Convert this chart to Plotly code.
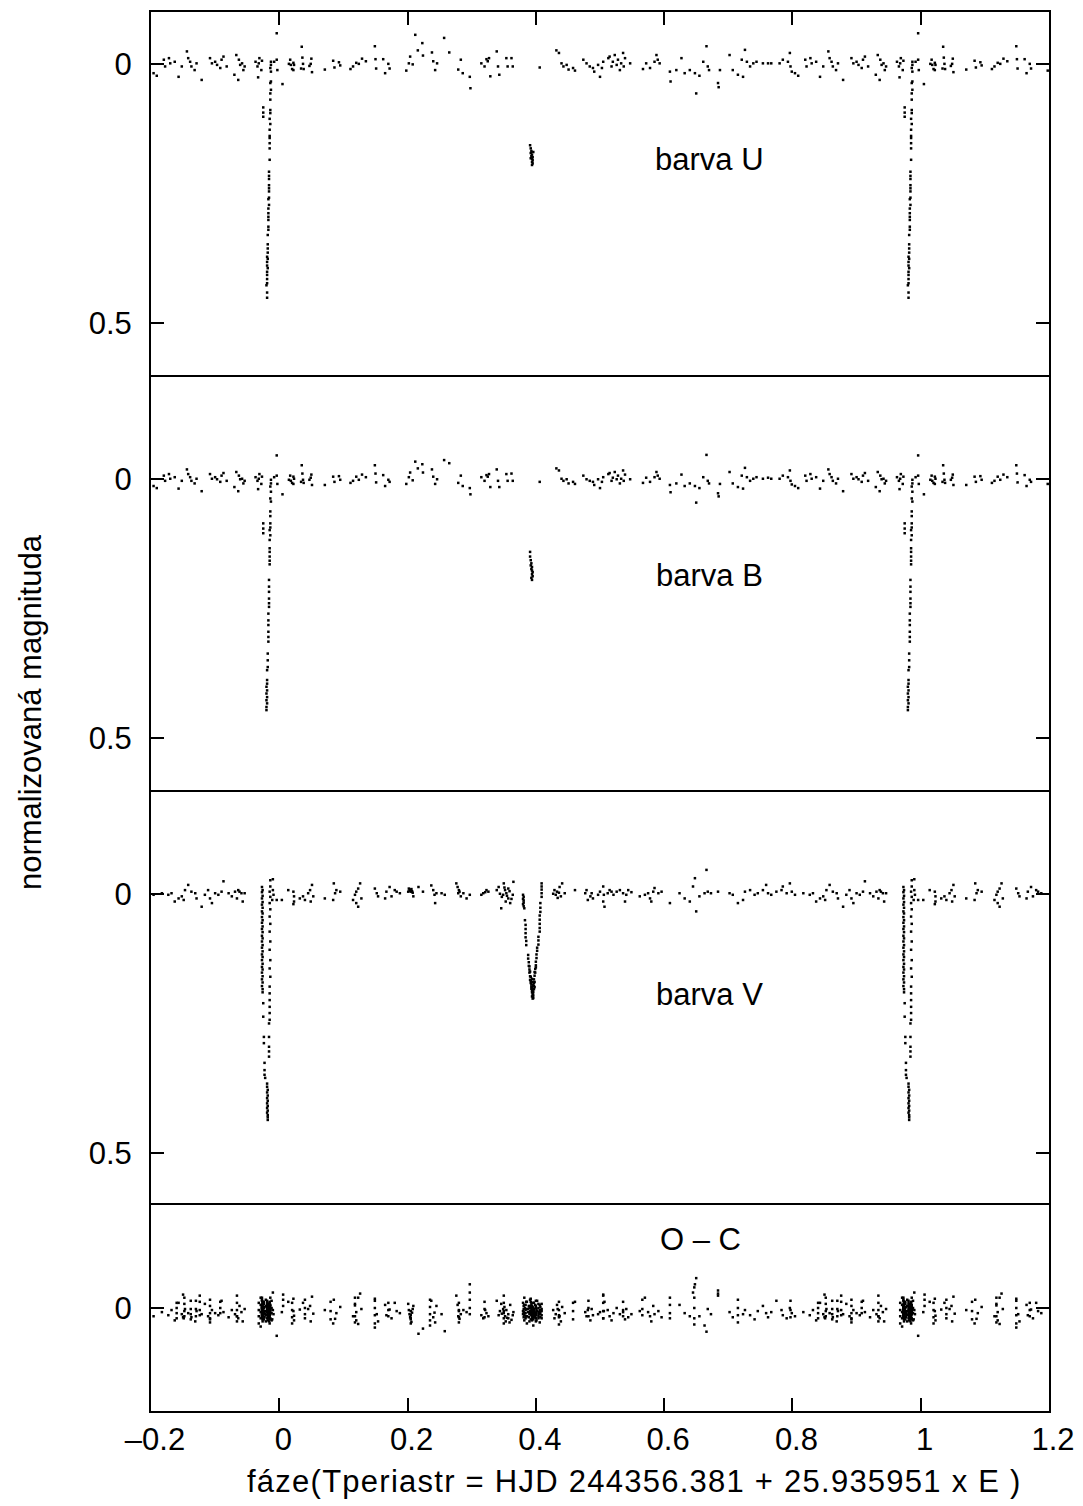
import plotly.graph_objects as go
from plotly.subplots import make_subplots

FONT = "Liberation Sans, Arial, Helvetica, sans-serif"
FS = 31

# ---------------- data (phase in [0,1), normalized magnitude) ----------------
# U filter, out of eclipse
u_out = [
    (0.005, 0.039), (0.015, 0.000), (0.017, -0.008), (0.018, 0.002), (0.020, 0.010), (0.022, -0.002),
    (0.022, 0.012), (0.023, 0.002), (0.034, 0.009), (0.035, -0.033), (0.036, -0.012), (0.037, 0.000),
    (0.038, 0.010), (0.047, 0.004), (0.049, 0.000), (0.050, -0.010), (0.051, 0.016), (0.071, 0.011),
    (0.084, -0.006), (0.086, 0.007), (0.093, -0.003), (0.095, 0.003), (0.111, 0.010), (0.115, 0.005),
    (0.120, -0.002), (0.124, 0.000), (0.129, -0.010), (0.135, -0.005), (0.149, -0.034), (0.150, -0.009),
    (0.151, 0.009), (0.162, -0.009), (0.165, 0.018), (0.170, 0.000), (0.172, 0.009), (0.198, 0.013),
    (0.202, -0.001), (0.204, -0.014), (0.208, 0.001), (0.212, -0.056), (0.216, -0.026), (0.223, -0.040),
    (0.224, -0.016), (0.238, -0.022), (0.240, -0.005), (0.243, 0.012), (0.246, -0.001), (0.257, -0.050),
    (0.265, -0.022), (0.279, 0.011), (0.283, -0.008), (0.286, 0.018), (0.297, 0.025), (0.298, 0.047),
    (0.315, -0.001), (0.320, 0.005), (0.323, -0.009), (0.325, -0.005), (0.327, -0.011), (0.329, 0.024),
    (0.339, -0.024), (0.341, 0.005), (0.343, 0.021), (0.354, -0.011), (0.356, 0.005), (0.362, -0.011),
    (0.364, 0.005), (0.406, 0.007), (0.432, -0.026), (0.436, -0.021), (0.440, -0.001), (0.443, 0.005),
    (0.448, 0.002), (0.451, 0.011), (0.458, 0.008), (0.461, 0.013), (0.474, -0.008), (0.479, -0.001),
    (0.484, 0.005), (0.489, 0.008), (0.497, 0.002), (0.491, 0.015), (0.500, 0.025), (0.503, 0.008),
    (0.505, -0.004), (0.513, -0.011), (0.515, -0.014), (0.518, 0.005), (0.520, -0.004), (0.523, -0.017),
    (0.526, 0.002), (0.528, -0.008), (0.531, 0.012), (0.533, -0.001), (0.536, -0.021), (0.537, 0.005),
    (0.539, -0.011), (0.547, -0.001), (0.567, 0.010), (0.572, -0.001), (0.578, 0.008), (0.585, -0.004),
    (0.588, -0.017), (0.590, -0.008), (0.593, -0.001), (0.609, 0.015), (0.610, 0.034), (0.619, 0.012),
    (0.627, -0.011), (0.632, 0.018), (0.640, 0.012), (0.648, 0.018), (0.650, 0.057), (0.655, 0.023),
    (0.661, -0.004), (0.666, -0.034), (0.668, 0.005), (0.670, 0.012), (0.684, 0.037), (0.685, 0.045),
    (0.687, 0.012), (0.702, -0.017), (0.707, 0.012), (0.715, 0.021), (0.721, -0.008), (0.723, 0.025),
    (0.726, -0.027), (0.729, -0.004), (0.734, 0.005), (0.739, -0.001), (0.744, -0.004), (0.754, -0.001),
    (0.762, -0.001), (0.767, -0.001), (0.780, -0.001), (0.785, -0.008), (0.793, -0.004), (0.796, -0.021),
    (0.797, 0.005), (0.799, 0.015), (0.804, 0.018), (0.809, 0.023), (0.820, -0.008), (0.822, 0.005),
    (0.828, -0.011), (0.830, -0.001), (0.837, -0.004), (0.843, 0.025), (0.848, 0.005), (0.856, -0.024),
    (0.858, -0.011), (0.861, -0.004), (0.863, 0.005), (0.868, 0.012), (0.871, -0.001), (0.879, 0.031),
    (0.892, -0.011), (0.895, -0.001), (0.900, -0.004), (0.903, 0.002), (0.908, 0.008), (0.910, -0.008),
    (0.913, -0.014), (0.918, 0.005), (0.930, 0.021), (0.933, -0.017), (0.936, 0.031), (0.937, -0.008),
    (0.939, 0.002), (0.942, -0.001), (0.944, 0.012), (0.946, 0.005), (0.963, -0.004), (0.966, 0.005),
    (0.967, 0.026), (0.968, -0.001), (0.969, -0.011), (0.972, 0.012), (0.973, -0.006), (0.992, -0.004),
    (0.996, -0.059), (0.996, -0.008), (0.997, 0.012),
]
# U filter, primary eclipse
u_ecl = [
    (0.987, -0.004), (0.987, 0.002), (0.986, 0.008), (0.987, 0.015), (0.987, 0.034), (0.986, 0.037),
    (0.987, 0.050), (0.986, 0.057), (0.986, 0.069), (0.986, 0.089), (0.986, 0.095), (0.985, 0.106),
    (0.986, 0.116), (0.985, 0.127), (0.985, 0.139), (0.985, 0.143), (0.985, 0.153), (0.985, 0.163),
    (0.985, 0.185), (0.984, 0.208), (0.984, 0.216), (0.984, 0.222), (0.984, 0.234), (0.984, 0.240),
    (0.984, 0.246), (0.984, 0.258), (0.983, 0.261), (0.984, 0.272), (0.983, 0.279), (0.983, 0.288),
    (0.983, 0.295), (0.983, 0.301), (0.983, 0.314), (0.983, 0.320), (0.982, 0.330), (0.982, 0.348),
    (0.982, 0.356), (0.982, 0.364), (0.981, 0.372), (0.982, 0.376), (0.981, 0.382), (0.981, 0.389),
    (0.982, 0.394), (0.981, 0.401), (0.981, 0.407), (0.981, 0.415), (0.981, 0.423), (0.980, 0.427),
    (0.981, 0.441), (0.981, 0.451), (0.975, 0.084), (0.975, 0.094), (0.975, 0.102),
]
# U filter, secondary eclipse
u_sec = [
    (0.391, 0.157), (0.392, 0.163), (0.393, 0.168), (0.392, 0.172), (0.394, 0.175), (0.393, 0.178),
    (0.395, 0.180), (0.394, 0.183), (0.395, 0.186), (0.394, 0.189), (0.395, 0.192), (0.394, 0.195),
    (0.396, 0.170), (0.392, 0.182),
]

# B filter, out of eclipse
b_out = [
    (0.005, 0.030), (0.015, 0.002), (0.017, -0.006), (0.018, 0.004), (0.020, 0.008), (0.022, -0.004),
    (0.022, 0.010), (0.023, 0.000), (0.034, 0.006), (0.035, -0.026), (0.036, -0.010), (0.037, 0.002),
    (0.038, 0.008), (0.047, 0.002), (0.049, -0.002), (0.050, -0.008), (0.051, 0.012), (0.071, 0.012),
    (0.084, -0.004), (0.086, 0.006), (0.093, -0.005), (0.095, 0.002), (0.111, 0.008), (0.115, 0.004),
    (0.120, -0.004), (0.124, 0.002), (0.129, -0.008), (0.135, -0.003), (0.149, -0.026), (0.150, -0.010),
    (0.151, 0.007), (0.162, -0.007), (0.165, 0.014), (0.170, 0.002), (0.172, 0.006), (0.198, 0.010),
    (0.202, -0.003), (0.204, -0.012), (0.208, 0.003), (0.212, -0.033), (0.216, -0.020), (0.223, -0.028),
    (0.224, -0.012), (0.238, -0.018), (0.240, -0.004), (0.243, 0.010), (0.246, 0.001), (0.257, -0.036),
    (0.265, -0.030), (0.279, 0.008), (0.283, -0.006), (0.286, 0.014), (0.297, 0.018), (0.298, 0.030),
    (0.315, -0.003), (0.320, 0.004), (0.323, -0.007), (0.325, -0.004), (0.327, -0.009), (0.329, 0.016),
    (0.339, -0.018), (0.341, 0.004), (0.343, 0.016), (0.354, -0.009), (0.356, 0.004), (0.362, -0.010),
    (0.364, 0.004), (0.406, 0.006), (0.432, -0.020), (0.436, -0.016), (0.440, 0.000), (0.443, 0.004),
    (0.448, 0.001), (0.451, 0.009), (0.458, 0.006), (0.461, 0.010), (0.474, -0.006), (0.479, 0.001),
    (0.484, 0.004), (0.489, 0.006), (0.497, 0.001), (0.491, 0.012), (0.500, 0.018), (0.503, 0.006),
    (0.505, -0.003), (0.513, -0.009), (0.515, -0.011), (0.518, 0.004), (0.520, -0.002), (0.523, -0.013),
    (0.526, 0.001), (0.528, -0.006), (0.531, 0.009), (0.533, 0.000), (0.536, -0.016), (0.537, 0.004),
    (0.539, -0.008), (0.547, 0.001), (0.567, 0.008), (0.572, -0.002), (0.578, 0.006), (0.585, -0.003),
    (0.588, -0.013), (0.590, -0.006), (0.593, 0.000), (0.609, 0.012), (0.610, 0.026), (0.619, 0.009),
    (0.627, -0.008), (0.632, 0.014), (0.640, 0.009), (0.648, 0.014), (0.650, 0.046), (0.655, 0.018),
    (0.661, -0.003), (0.666, -0.046), (0.668, 0.004), (0.670, 0.009), (0.684, 0.028), (0.685, 0.034),
    (0.687, 0.010), (0.702, -0.013), (0.707, 0.009), (0.715, 0.016), (0.721, -0.006), (0.723, 0.019),
    (0.726, -0.021), (0.729, -0.003), (0.734, 0.004), (0.739, 0.000), (0.744, -0.003), (0.754, 0.000),
    (0.762, -0.002), (0.767, 0.000), (0.780, 0.000), (0.785, -0.006), (0.793, -0.003), (0.796, -0.016),
    (0.797, 0.004), (0.799, 0.011), (0.804, 0.014), (0.809, 0.018), (0.820, -0.006), (0.822, 0.004),
    (0.828, -0.009), (0.830, 0.000), (0.837, -0.003), (0.843, 0.019), (0.848, 0.004), (0.856, -0.018),
    (0.858, -0.009), (0.861, -0.003), (0.863, 0.004), (0.868, 0.009), (0.871, 0.000), (0.879, 0.024),
    (0.892, -0.009), (0.895, 0.000), (0.900, -0.003), (0.903, 0.001), (0.908, 0.006), (0.910, -0.006),
    (0.913, -0.011), (0.918, 0.004), (0.930, 0.016), (0.933, -0.013), (0.936, 0.024), (0.937, -0.006),
    (0.939, 0.001), (0.942, 0.000), (0.944, 0.009), (0.946, 0.004), (0.963, -0.003), (0.966, 0.004),
    (0.967, 0.020), (0.968, 0.000), (0.969, -0.009), (0.972, 0.010), (0.973, -0.004), (0.992, -0.003),
    (0.996, -0.045), (0.996, -0.006), (0.997, 0.010),
]
# B filter, primary eclipse
b_ecl = [
    (0.987, 0.002), (0.987, 0.009), (0.986, 0.015), (0.987, 0.025), (0.986, 0.038), (0.987, 0.044),
    (0.986, 0.063), (0.986, 0.072), (0.986, 0.086), (0.986, 0.094), (0.985, 0.099), (0.986, 0.109),
    (0.985, 0.118), (0.985, 0.134), (0.985, 0.141), (0.985, 0.150), (0.985, 0.158), (0.985, 0.165),
    (0.984, 0.195), (0.984, 0.208), (0.984, 0.218), (0.984, 0.231), (0.984, 0.240), (0.984, 0.247),
    (0.983, 0.260), (0.983, 0.273), (0.983, 0.282), (0.983, 0.295), (0.983, 0.305), (0.983, 0.314),
    (0.982, 0.337), (0.982, 0.350), (0.982, 0.363), (0.981, 0.369), (0.981, 0.388), (0.981, 0.395),
    (0.980, 0.401), (0.981, 0.408), (0.980, 0.414), (0.981, 0.421), (0.980, 0.427), (0.981, 0.433),
    (0.980, 0.440), (0.980, 0.446), (0.975, 0.086), (0.975, 0.096), (0.975, 0.105),
]
# B filter, secondary eclipse
b_sec = [
    (0.391, 0.141), (0.391, 0.150), (0.392, 0.157), (0.393, 0.163), (0.392, 0.167), (0.394, 0.170),
    (0.393, 0.174), (0.394, 0.177), (0.395, 0.180), (0.394, 0.184), (0.395, 0.188), (0.393, 0.191),
    (0.394, 0.195),
]

# V filter: (phase, V magnitude, O-C residual)
v_out = [
    (0.990, -0.028, -0.030), (0.990, -0.007, 0.004), (0.991, 0.002, 0.012), (0.989, 0.012, 0.022),
    (0.996, 0.012, 0.054), (0.004, 0.012, 0.008), (0.014, -0.007, -0.012), (0.022, -0.004, 0.006),
    (0.023, 0.005, 0.015), (0.023, 0.015, 0.024), (0.022, 0.020, -0.018), (0.032, 0.009, 0.003),
    (0.037, 0.005, -0.010), (0.040, 0.012, 0.020), (0.045, -0.001, 0.002), (0.048, -0.007, -0.004),
    (0.051, -0.017, -0.022), (0.053, 0.005, 0.011), (0.049, 0.015, 0.026), (0.071, 0.009, 0.004),
    (0.085, -0.020, -0.016), (0.089, -0.007, 0.010), (0.095, -0.004, -0.002), (0.087, -0.001, 0.021),
    (0.084, 0.012, 0.030), (0.115, 0.012, 0.016), (0.118, 0.002, -0.005), (0.120, -0.004, 0.008),
    (0.123, -0.010, -0.020), (0.123, 0.025, 0.031), (0.126, -0.020, -0.028), (0.128, 0.009, 0.002),
    (0.120, 0.018, 0.024), (0.149, -0.010, -0.018), (0.152, -0.001, 0.012), (0.154, 0.005, 0.026),
    (0.165, 0.009, -0.006), (0.167, -0.004, 0.014), (0.172, -0.013, 0.003), (0.175, 0.005, 0.020),
    (0.180, -0.007, -0.010), (0.183, -0.004, 0.006), (0.188, -0.001, 0.010), (0.201, -0.004, -0.008),
    (0.202, -0.010, 0.004), (0.203, -0.006, 0.012), (0.204, -0.008, 0.018), (0.205, -0.004, 0.022),
    (0.206, -0.009, 0.027), (0.207, -0.005, 0.009), (0.208, -0.002, 0.002), (0.209, 0.005, -0.004),
    (0.217, -0.013, 0.050), (0.224, -0.004, 0.040), (0.237, -0.016, -0.014), (0.240, -0.007, 0.018),
    (0.242, 0.002, 0.009), (0.245, -0.001, -0.004), (0.243, 0.018, 0.028), (0.253, -0.001, 0.012),
    (0.258, 0.002, 0.045), (0.276, -0.020, -0.024), (0.278, -0.013, -0.006), (0.280, -0.007, 0.006),
    (0.279, -0.001, 0.016), (0.281, -0.004, 0.021), (0.283, 0.005, 0.012), (0.287, -0.001, 0.004),
    (0.292, 0.009, 0.008), (0.297, 0.002, -0.046), (0.315, 0.002, 0.014), (0.318, -0.001, 0.020),
    (0.321, -0.003, 0.004), (0.323, -0.007, 0.010), (0.326, -0.004, 0.016), (0.339, -0.007, -0.014),
    (0.342, -0.013, 0.014), (0.349, 0.002, 0.002), (0.350, -0.020, 0.010), (0.352, -0.007, 0.016),
    (0.354, -0.001, 0.004), (0.357, 0.009, 0.020), (0.353, 0.015, 0.026), (0.360, 0.018, -0.006),
    (0.346, 0.028, -0.008), (0.357, -0.010, 0.012), (0.365, -0.023, 0.008), (0.344, 0.000, 0.006),
    (0.347, 0.006, 0.011), (0.351, -0.012, -0.002), (0.355, 0.004, 0.019), (0.359, -0.005, 0.028),
    (0.362, 0.010, 0.023), (0.364, 0.002, 0.014), (0.427, 0.000, 0.004), (0.429, -0.007, 0.020),
    (0.431, 0.002, 0.012), (0.433, -0.004, -0.006), (0.437, -0.013, 0.016), (0.439, 0.005, 0.026),
    (0.441, -0.020, -0.002), (0.445, -0.001, 0.010), (0.434, 0.008, 0.002), (0.436, -0.002, 0.014),
    (0.461, -0.007, -0.012), (0.477, -0.001, 0.008), (0.479, -0.007, 0.016), (0.481, 0.012, 0.004),
    (0.485, 0.005, 0.024), (0.497, 0.002, 0.012), (0.487, -0.001, 0.002), (0.489, 0.009, 0.014),
    (0.500, -0.004, 0.008), (0.505, -0.014, -0.026), (0.506, 0.002, 0.006), (0.505, 0.015, 0.020),
    (0.507, 0.025, -0.012), (0.512, -0.001, 0.004), (0.515, -0.007, 0.016), (0.518, -0.004, 0.024),
    (0.521, 0.002, 0.010), (0.526, -0.004, 0.000), (0.531, -0.007, 0.012), (0.536, -0.001, 0.008),
    (0.539, 0.015, 0.022), (0.541, 0.002, 0.002), (0.544, -0.007, 0.018), (0.549, -0.003, 0.012),
    (0.562, 0.005, 0.006), (0.570, 0.002, -0.020), (0.575, -0.001, 0.008), (0.578, 0.009, 0.016),
    (0.580, 0.015, 0.026), (0.583, -0.004, -0.004), (0.585, -0.011, 0.012), (0.591, -0.001, 0.006),
    (0.596, -0.004, 0.018), (0.609, 0.018, 0.020), (0.624, -0.001, -0.006), (0.632, 0.009, 0.010),
    (0.640, 0.015, 0.016), (0.645, -0.014, -0.030), (0.648, -0.030, -0.046), (0.650, 0.034, -0.058),
    (0.655, 0.005, 0.016), (0.666, -0.046, 0.046), (0.663, -0.001, 0.034), (0.668, -0.004, 0.002),
    (0.673, -0.001, 0.012), (0.684, -0.004, -0.028), (0.702, -0.001, 0.008), (0.707, 0.002, 0.018),
    (0.715, 0.018, 0.028), (0.723, 0.012, 0.012), (0.726, -0.004, 0.004), (0.734, -0.007, 0.014),
    (0.741, 0.002, 0.022), (0.746, -0.001, 0.006), (0.754, -0.007, -0.004), (0.759, -0.017, 0.010),
    (0.762, -0.001, 0.018), (0.767, 0.002, 0.008), (0.775, -0.004, -0.014), (0.783, -0.007, 0.004),
    (0.785, -0.014, 0.014), (0.791, -0.001, 0.020), (0.796, -0.020, 0.000), (0.799, -0.004, 0.010),
    (0.804, 0.002, 0.016), (0.817, -0.001, 0.008), (0.827, 0.002, 0.014), (0.832, -0.001, 0.004),
    (0.837, 0.015, 0.024), (0.843, 0.009, -0.010), (0.848, 0.005, 0.012), (0.851, 0.012, 0.020),
    (0.853, -0.007, 0.002), (0.858, -0.017, 0.010), (0.863, -0.004, 0.018), (0.869, -0.001, 0.026),
    (0.871, 0.009, 0.006), (0.879, 0.025, 0.012), (0.884, 0.002, -0.008), (0.889, -0.007, 0.016),
    (0.892, 0.009, 0.022), (0.895, 0.018, 0.004), (0.900, -0.001, 0.010), (0.905, 0.002, 0.014),
    (0.910, -0.004, -0.014), (0.913, -0.024, 0.008), (0.921, -0.001, 0.018), (0.926, 0.005, 0.004),
    (0.931, -0.004, 0.012), (0.936, -0.007, 0.020), (0.941, -0.001, 0.008), (0.946, -0.001, 0.002),
    (0.934, 0.009, 0.016), (0.943, 0.015, 0.026), (0.938, -0.004, -0.004),
]
# V filter, primary eclipse (two nights plus the deep part)
v_ecl = [
    (0.973, -0.013, -0.006), (0.974, -0.007, 0.010), (0.973, -0.003, -0.014), (0.974, 0.004, 0.004),
    (0.973, 0.009, 0.018), (0.974, 0.016, -0.002), (0.973, 0.021, 0.012), (0.974, 0.027, -0.010),
    (0.973, 0.034, 0.006), (0.974, 0.038, 0.022), (0.973, 0.045, -0.004), (0.974, 0.051, 0.014),
    (0.973, 0.056, 0.000), (0.974, 0.063, 0.008), (0.973, 0.068, -0.016), (0.974, 0.074, 0.016),
    (0.973, 0.081, 0.002), (0.974, 0.086, -0.008), (0.973, 0.092, 0.010), (0.974, 0.099, 0.026),
    (0.973, 0.104, -0.002), (0.974, 0.111, 0.006), (0.973, 0.117, 0.014), (0.974, 0.122, -0.012),
    (0.973, 0.128, 0.004), (0.974, 0.135, 0.020), (0.973, 0.141, -0.006), (0.974, 0.146, 0.008),
    (0.973, 0.152, 0.000), (0.974, 0.159, 0.012), (0.973, 0.165, -0.020), (0.974, 0.171, 0.006),
    (0.973, 0.178, 0.016), (0.974, 0.184, -0.004), (0.974, 0.190, 0.010), (0.975, 0.211, 0.002),
    (0.975, 0.237, 0.014), (0.976, 0.276, -0.008), (0.976, 0.288, 0.006), (0.977, 0.326, 0.018),
    (0.977, 0.340, -0.002), (0.977, 0.349, 0.008), (0.978, 0.355, 0.012), (0.981, 0.366, 0.004),
    (0.981, 0.372, -0.010), (0.982, 0.378, 0.010), (0.981, 0.383, 0.000), (0.982, 0.389, 0.016),
    (0.981, 0.394, -0.006), (0.982, 0.399, 0.006), (0.981, 0.404, 0.020), (0.982, 0.409, -0.002),
    (0.981, 0.413, 0.008), (0.982, 0.418, 0.012), (0.981, 0.422, -0.014), (0.982, 0.427, 0.004),
    (0.982, 0.431, 0.024), (0.982, 0.436, 0.002), (0.986, -0.026, 0.012), (0.986, -0.014, -0.004),
    (0.985, -0.004, 0.008), (0.986, 0.006, 0.020), (0.985, 0.018, -0.012), (0.986, 0.030, 0.004),
    (0.985, 0.044, 0.014), (0.986, 0.058, -0.006), (0.985, 0.073, 0.030), (0.986, 0.092, 0.002),
    (0.985, 0.108, 0.010), (0.986, 0.128, -0.020), (0.985, 0.144, 0.016), (0.986, 0.160, 0.006),
    (0.985, 0.179, -0.002), (0.985, 0.192, 0.022), (0.985, 0.205, 0.008), (0.985, 0.218, -0.010),
    (0.985, 0.230, 0.012), (0.985, 0.243, 0.002), (0.984, 0.250, 0.018), (0.984, 0.276, -0.004),
    (0.984, 0.295, 0.010), (0.984, 0.304, 0.026), (0.984, 0.314, 0.004),
]
# V filter, secondary eclipse
v_sec = [
    (0.380, 0.002, 0.006), (0.381, 0.006, -0.004), (0.380, 0.010, 0.012), (0.381, 0.013, 0.002),
    (0.381, 0.017, 0.018), (0.380, 0.020, -0.010), (0.381, 0.024, 0.008), (0.382, 0.028, 0.014),
    (0.383, 0.051, 0.000), (0.384, 0.060, 0.020), (0.384, 0.068, -0.006), (0.384, 0.076, 0.010),
    (0.384, 0.084, 0.004), (0.385, 0.091, 0.016), (0.385, 0.099, -0.012), (0.388, 0.118, 0.008),
    (0.388, 0.125, 0.002), (0.389, 0.132, 0.018), (0.389, 0.139, -0.004), (0.390, 0.146, 0.012),
    (0.390, 0.152, 0.026), (0.391, 0.159, 0.006), (0.391, 0.166, -0.016), (0.392, 0.168, 0.010),
    (0.392, 0.172, 0.000), (0.393, 0.175, 0.014), (0.393, 0.179, 0.004), (0.393, 0.183, -0.008),
    (0.394, 0.186, 0.020), (0.394, 0.190, 0.008), (0.395, 0.193, 0.016), (0.395, 0.197, -0.002),
    (0.396, 0.201, 0.006), (0.396, 0.196, 0.012), (0.396, 0.190, 0.022), (0.397, 0.184, 0.002),
    (0.397, 0.178, 0.010), (0.397, 0.172, -0.010), (0.397, 0.165, 0.004), (0.398, 0.158, 0.014),
    (0.398, 0.151, 0.008), (0.399, 0.145, 0.018), (0.400, 0.138, -0.004), (0.400, 0.131, 0.010),
    (0.401, 0.124, 0.002), (0.401, 0.117, 0.024), (0.402, 0.110, 0.006), (0.402, 0.104, -0.014),
    (0.404, 0.098, 0.012), (0.404, 0.090, 0.000), (0.404, 0.083, 0.016), (0.406, 0.073, 0.008),
    (0.406, 0.066, 0.028), (0.406, 0.058, -0.006), (0.406, 0.050, 0.012), (0.406, 0.042, 0.004),
    (0.407, 0.035, 0.018), (0.407, 0.027, -0.002), (0.407, 0.018, 0.010), (0.409, 0.006, 0.006),
    (0.409, -0.001, 0.020), (0.409, -0.008, -0.008), (0.409, -0.014, 0.014), (0.409, -0.020, 0.002),
    (0.393, 0.170, 0.012), (0.394, 0.180, -0.004), (0.395, 0.188, 0.008), (0.396, 0.184, 0.018),
    (0.396, 0.176, 0.000), (0.395, 0.170, 0.010), (0.394, 0.164, 0.024), (0.392, 0.160, -0.012),
    (0.398, 0.170, 0.006), (0.398, 0.180, 0.014), (0.395, 0.202, 0.004), (0.394, 0.198, 0.016),
    (0.390, 0.140, 0.000), (0.391, 0.150, 0.010), (0.399, 0.152, -0.006), (0.400, 0.142, 0.020),
]
# further O-C residuals (phase, O-C) visible as short vertical streaks
oc_more = [
    (0.852, -0.020), (0.852, -0.008), (0.852, 0.006), (0.852, 0.016), (0.862, -0.014), (0.862, 0.002),
    (0.862, 0.012), (0.862, 0.022), (0.840, -0.010), (0.840, 0.000), (0.840, 0.010), (0.840, 0.020),
    (0.850, -0.026), (0.850, 0.018), (0.876, -0.024), (0.876, -0.012), (0.876, 0.004), (0.876, 0.014),
    (0.892, -0.016), (0.892, -0.004), (0.892, 0.010), (0.892, 0.020), (0.892, 0.028), (0.908, -0.012),
    (0.908, 0.000), (0.908, 0.010), (0.934, -0.024), (0.934, -0.010), (0.934, 0.004), (0.934, 0.016),
    (0.934, 0.026), (0.968, -0.010), (0.968, 0.004), (0.968, 0.016), (0.968, 0.030), (0.971, -0.020),
    (0.971, -0.006), (0.971, 0.008), (0.971, 0.020), (0.971, 0.036), (0.976, -0.012), (0.976, 0.000),
    (0.976, 0.010), (0.976, 0.022), (0.979, -0.016), (0.979, -0.004), (0.979, 0.006), (0.979, 0.014),
    (0.979, 0.026), (0.983, -0.008), (0.983, 0.002), (0.983, 0.012), (0.983, 0.020), (0.988, -0.014),
    (0.988, 0.000), (0.988, 0.010), (0.988, 0.024), (0.006, -0.026), (0.006, -0.016), (0.006, -0.004),
    (0.020, -0.010), (0.020, 0.004), (0.020, 0.018), (0.020, 0.030), (0.040, -0.016), (0.040, 0.000),
    (0.040, 0.012), (0.080, -0.012), (0.080, 0.006), (0.080, 0.022), (0.118, -0.020), (0.118, -0.008),
    (0.118, 0.016), (0.118, 0.028), (0.149, -0.014), (0.149, 0.000), (0.149, 0.014), (0.149, 0.030),
    (0.149, 0.038), (0.170, -0.010), (0.170, 0.004), (0.170, 0.016), (0.205, 0.006), (0.205, 0.014),
    (0.205, 0.020), (0.205, 0.030), (0.235, -0.016), (0.235, -0.002), (0.235, 0.012), (0.235, 0.024),
    (0.235, 0.034), (0.280, -0.010), (0.280, 0.004), (0.280, 0.018), (0.280, 0.028), (0.297, -0.030),
    (0.297, -0.016), (0.297, 0.000), (0.297, 0.012), (0.320, -0.012), (0.320, 0.002), (0.320, 0.018),
    (0.350, -0.024), (0.350, -0.010), (0.350, 0.006), (0.350, 0.020), (0.350, 0.030), (0.382, -0.020),
    (0.382, -0.006), (0.382, 0.010), (0.382, 0.024), (0.386, -0.012), (0.386, 0.002), (0.386, 0.016),
    (0.386, 0.030), (0.392, -0.018), (0.392, -0.004), (0.392, 0.012), (0.392, 0.022), (0.396, -0.010),
    (0.396, 0.004), (0.396, 0.018), (0.396, 0.034), (0.400, -0.014), (0.400, 0.000), (0.400, 0.014),
    (0.400, 0.026), (0.404, -0.008), (0.404, 0.008), (0.404, 0.020), (0.436, -0.012), (0.436, 0.004),
    (0.436, 0.018), (0.436, 0.032), (0.458, -0.010), (0.458, 0.006), (0.458, 0.022), (0.482, -0.014),
    (0.482, 0.000), (0.482, 0.016), (0.505, -0.024), (0.505, -0.010), (0.505, 0.006), (0.505, 0.020),
    (0.536, -0.012), (0.536, 0.004), (0.536, 0.016), (0.566, -0.016), (0.566, 0.002), (0.566, 0.014),
    (0.609, -0.020), (0.609, -0.006), (0.609, 0.010), (0.647, -0.040), (0.647, -0.020), (0.647, 0.000),
    (0.647, 0.020), (0.647, 0.032), (0.684, -0.034), (0.684, -0.024), (0.715, -0.016), (0.715, 0.000),
    (0.715, 0.014), (0.797, -0.014), (0.797, 0.004), (0.797, 0.018), (0.870, -0.014), (0.870, 0.002),
    (0.870, 0.016),
]

x_tick_vals = [-0.2, 0.0, 0.2, 0.4, 0.6, 0.8, 1.0, 1.2]
x_tick_text = ["\u20130.2", "0", "0.2", "0.4", "0.6", "0.8", "1", "1.2"]
panel_labels = ["barva U", "barva B", "barva V", "O \u2013 C"]
x_title = "fáze(Tperiastr = HJD 244356.381 + 25.935951 x E )"
y_title = "normalizovaná magnituda"

X_MIN, X_MAX = -0.2, 1.2


def folded(phases, values):
    """Repeat the phase-folded points one cycle to each side, as in the original."""
    xs, ys = [], []
    for p, v in zip(phases, values):
        for k in (-1, 0, 1):
            x = p + k
            if X_MIN <= x <= X_MAX:
                xs.append(x)
                ys.append(v)
    return xs, ys


def col(rows, i):
    return [r[i] for r in rows]


u_all = u_out + u_ecl + u_sec
b_all = b_out + b_ecl + b_sec
v_all = v_out + v_ecl + v_sec

series = [
    folded(col(u_all, 0), col(u_all, 1)),
    folded(col(b_all, 0), col(b_all, 1)),
    folded(col(v_all, 0), col(v_all, 1)),
    folded(col(v_all, 0) + col(oc_more, 0), col(v_all, 2) + col(oc_more, 1)),
]

fig = make_subplots(rows=4, cols=1, shared_xaxes=True, vertical_spacing=0,
                    row_heights=[363, 415, 415, 206])

for i, (xs, ys) in enumerate(series):
    fig.add_trace(go.Scatter(x=xs, y=ys, mode="markers",
                             marker=dict(size=2.5, color="black", symbol="square",
                                         line=dict(width=0)),
                             hoverinfo="skip", showlegend=False),
                  row=i + 1, col=1)

y_ranges = [[0.6, -0.1], [0.6, -0.2], [0.6, -0.2], [0.2, -0.2]]
y_ticks = [[0, 0.5], [0, 0.5], [0, 0.5], [0]]

LW = 2
base = dict(linecolor="black", linewidth=LW, showgrid=False, zeroline=False)

# x axes: top frame + first separator from row 1, second separator from row 2,
# third separator + bottom frame from row 4 (each line drawn exactly once)
fig.update_xaxes(row=1, col=1, range=[X_MIN, X_MAX], showline=True, mirror=True, side="top",
                 ticks="inside", ticklen=13, tickwidth=2, tickcolor="black",
                 tickvals=x_tick_vals, showticklabels=False, **base)
fig.update_xaxes(row=2, col=1, range=[X_MIN, X_MAX], showline=True, mirror=False, side="bottom",
                 ticks="", showticklabels=False, **base)
fig.update_xaxes(row=3, col=1, range=[X_MIN, X_MAX], showline=False, mirror=False,
                 ticks="", showticklabels=False, **base)
fig.update_xaxes(row=4, col=1, range=[X_MIN, X_MAX], showline=True, mirror=True, side="bottom",
                 ticks="inside", ticklen=13, tickwidth=2, tickcolor="black",
                 tickvals=x_tick_vals, ticktext=x_tick_text, showticklabels=True,
                 tickfont=dict(family=FONT, size=FS, color="black"),
                 ticklabelshift=4, **base)

for i in range(4):
    fig.update_yaxes(row=i + 1, col=1, range=y_ranges[i], showline=True, mirror="ticks",
                     ticks="inside", ticklen=13, tickwidth=2, tickcolor="black",
                     tickvals=y_ticks[i],
                     ticktext=[("0" if v == 0 else "0.5") for v in y_ticks[i]],
                     tickfont=dict(family=FONT, size=FS, color="black"),
                     ticklabelstandoff=11, **base)

# panel labels placed in data coordinates of each panel
label_pos = [(0.671, 0.185), (0.671, 0.187), (0.671, 0.195), (0.656, -0.133)]
axis_names = [("x", "y"), ("x2", "y2"), ("x3", "y3"), ("x4", "y4")]
annotations = []
for (lx, ly), txt, (xr, yr) in zip(label_pos, panel_labels, axis_names):
    annotations.append(dict(x=lx, y=ly, xref=xr, yref=yr, text=txt, showarrow=False,
                            xanchor="center", yanchor="middle",
                            font=dict(family=FONT, size=FS, color="black")))

annotations.append(dict(x=0.538, y=-0.0505, xref="paper", yref="paper",
                        text='<span style="letter-spacing:1.25px">' + x_title + "</span>",
                        showarrow=False, xanchor="center", yanchor="middle",
                        font=dict(family=FONT, size=FS, color="black")))
annotations.append(dict(x=-0.1347, y=0.4996, xref="paper", yref="paper", text=y_title,
                        showarrow=False, xanchor="center", yanchor="middle", textangle=-90,
                        font=dict(family=FONT, size=FS, color="black")))

# the page body adds an 8 px offset; the figure is sized so the plot frame
# lands at x 151..1049, y 12..1411 of the window
fig.update_layout(width=1075, height=1498,
                  margin=dict(l=143, r=34, t=4, b=95, pad=0),
                  plot_bgcolor="white", paper_bgcolor="white",
                  showlegend=False, annotations=annotations,
                  font=dict(family=FONT, size=FS, color="black"))

fig.write_html("out.html")
